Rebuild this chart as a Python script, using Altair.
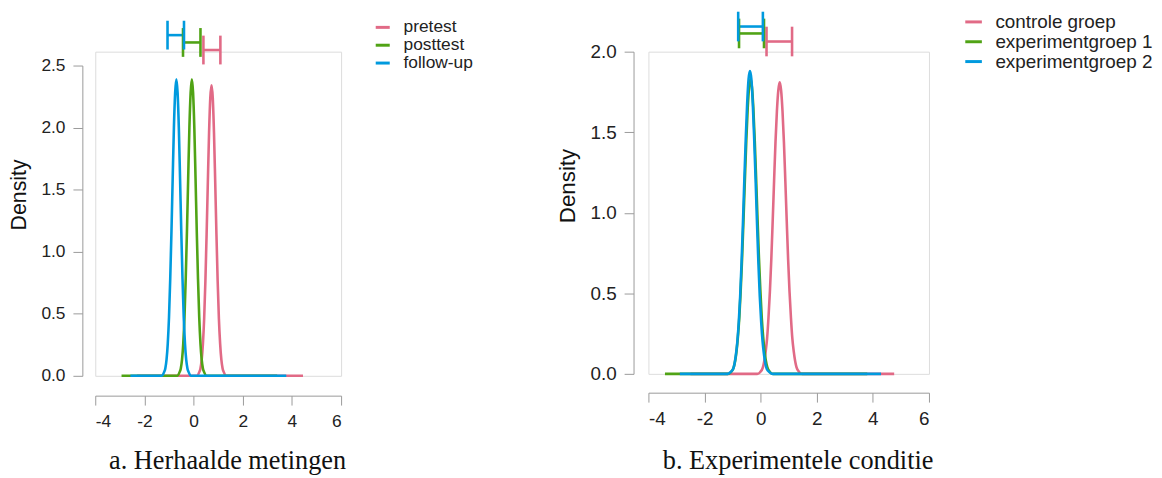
import altair as alt
import pandas as pd

# ---------------- data: panel a (Herhaalde metingen) ----------------
a_groups = ["pretest", "posttest", "follow-up"]
colors = ["#E16A86", "#50A315", "#009ADE"]

a_pre_x = [-2.30, 0.13, 0.23, 0.28, 0.33, 0.38, 0.43, 0.48, 0.53, 0.58, 0.63, 0.68, 0.73,
           0.78, 0.83, 0.88, 0.93, 0.98, 1.03, 1.08, 1.13, 1.18, 1.23, 1.33, 4.45]
a_pre_y = [0, 0, 0.03, 0.06, 0.13, 0.26, 0.46, 0.76, 1.14, 1.56, 1.96, 2.24, 2.34,
           2.24, 1.96, 1.56, 1.14, 0.76, 0.46, 0.26, 0.13, 0.06, 0.03, 0, 0]
a_post_x = [-2.93, -0.67, -0.57, -0.52, -0.47, -0.42, -0.37, -0.32, -0.27, -0.22, -0.17, -0.12, -0.07,
            -0.02, 0.03, 0.08, 0.13, 0.18, 0.23, 0.28, 0.33, 0.38, 0.43, 0.53, 3.40]
a_post_y = [0, 0, 0.03, 0.06, 0.13, 0.26, 0.47, 0.78, 1.16, 1.59, 2.00, 2.28, 2.39,
            2.28, 2.00, 1.59, 1.16, 0.78, 0.47, 0.26, 0.13, 0.06, 0.03, 0, 0]
a_fu_x = [-2.57, -1.30, -1.20, -1.15, -1.10, -1.05, -1.00, -0.95, -0.90, -0.85, -0.80, -0.75, -0.70,
          -0.65, -0.60, -0.55, -0.50, -0.45, -0.40, -0.35, -0.30, -0.25, -0.20, -0.10, 3.77]
a_fu_y = [0, 0, 0.03, 0.06, 0.13, 0.26, 0.47, 0.78, 1.16, 1.59, 2.00, 2.28, 2.39,
          2.28, 2.00, 1.59, 1.16, 0.78, 0.47, 0.26, 0.13, 0.06, 0.03, 0, 0]
a_ci_lo = [0.40, -0.43, -1.06]
a_ci_hi = [1.09, 0.28, -0.39]
a_ci_level = [2.625, 2.686, 2.745]

# ---------------- data: panel b (Experimentele conditie) ----------------
b_groups = ["controle groep", "experimentgroep 1", "experimentgroep 2"]

b_ctl_x = [-2.50, -0.12, -0.02, 0.08, 0.18, 0.23, 0.28, 0.33, 0.38, 0.43, 0.48, 0.53, 0.58, 0.63, 0.68,
           0.73, 0.78, 0.83, 0.88, 0.93, 0.98, 1.03, 1.08, 1.13, 1.18, 1.28, 1.38, 1.48, 4.76]
b_ctl_y = [0, 0, 0.01, 0.04, 0.14, 0.22, 0.35, 0.51, 0.71, 0.95, 1.20, 1.44, 1.63, 1.76, 1.81,
           1.76, 1.63, 1.44, 1.20, 0.95, 0.71, 0.51, 0.35, 0.22, 0.14, 0.04, 0.01, 0, 0]
b_e1_x = [-3.41, -1.16, -1.06, -0.96, -0.86, -0.81, -0.76, -0.71, -0.66, -0.61, -0.56, -0.51, -0.46, -0.41, -0.36,
          -0.31, -0.26, -0.21, -0.16, -0.11, -0.06, -0.01, 0.04, 0.09, 0.14, 0.24, 0.34, 0.44, 3.80]
b_e1_y = [0, 0, 0.01, 0.04, 0.14, 0.23, 0.35, 0.52, 0.72, 0.96, 1.21, 1.45, 1.65, 1.78, 1.83,
          1.78, 1.65, 1.45, 1.21, 0.96, 0.72, 0.52, 0.35, 0.23, 0.14, 0.04, 0.01, 0, 0]
b_e2_x = [-2.88, -1.18, -1.08, -0.98, -0.88, -0.83, -0.78, -0.73, -0.68, -0.63, -0.58, -0.53, -0.48, -0.43, -0.38,
          -0.33, -0.28, -0.23, -0.18, -0.13, -0.08, -0.03, 0.02, 0.07, 0.12, 0.22, 0.32, 0.42, 4.29]
b_e2_y = [0, 0, 0.01, 0.03, 0.12, 0.20, 0.32, 0.48, 0.69, 0.94, 1.21, 1.46, 1.68, 1.83, 1.88,
          1.83, 1.68, 1.46, 1.21, 0.94, 0.69, 0.48, 0.32, 0.20, 0.12, 0.03, 0.01, 0, 0]
b_ci_lo = [0.21, -0.77, -0.80]
b_ci_hi = [1.12, 0.12, 0.08]
b_ci_level = [2.063, 2.113, 2.156]

x_ticks = [-4, -2, 0, 2, 4, 6]
a_y_ticks = [0, 0.5, 1.0, 1.5, 2.0, 2.5]
b_y_ticks = [0, 0.5, 1.0, 1.5, 2.0]

SANS = "Liberation Sans"
SERIF = "Liberation Serif"
AXIS_GRAY = "#9a9a9a"
HYPHEN_LABEL = "datum.value < 0 ? '-' + abs(datum.value) : '' + datum.value"


def panel(groups, curves, ci_lo, ci_hi, ci_level, half, y_ticks, y_domain,
          width, height, y_range, caption, cap_x, cap_y, yoff, xoff, ttl_x, ttl_y,
          lab_fs, ttl_fs, leg_x, leg_y, leg_fs, leg_row_pad, sym_size):
    rows = []
    for g, (xs, ys) in zip(groups, curves):
        for i, (xv, yv) in enumerate(zip(xs, ys)):
            rows.append({"group": g, "x": xv, "y": yv, "i": i})
    dens = pd.DataFrame(rows)
    ci = pd.DataFrame({"group": groups, "lo": ci_lo, "hi": ci_hi, "level": ci_level})
    ends = pd.DataFrame(
        [{"group": g, "x": v, "level": l} for g, lo, hi, l in zip(groups, ci_lo, ci_hi, ci_level) for v in (lo, hi)]
    )

    if y_range is not None:
        yscale = alt.Scale(domain=y_domain, nice=False, zero=False, range=y_range)
    else:
        yscale = alt.Scale(domain=y_domain, nice=False, zero=False)
    xscale = alt.Scale(domain=[-4, 6], nice=False, zero=False)
    color = alt.Color("group:N", scale=alt.Scale(domain=groups, range=colors),
                      legend=alt.Legend(orient="none", legendX=leg_x, legendY=leg_y, title=None,
                                        symbolType="stroke", symbolStrokeWidth=3, symbolSize=sym_size,
                                        labelFontSize=leg_fs, labelFont=SANS, labelColor="#222222",
                                        labelOffset=12, rowPadding=leg_row_pad,
                                        padding=0, labelLimit=400))

    xaxis = alt.Axis(values=x_ticks, labelExpr=HYPHEN_LABEL, offset=xoff, grid=False,
                     domainColor=AXIS_GRAY, tickColor=AXIS_GRAY, tickSize=9.5,
                     labelFont=SANS, labelFontSize=lab_fs, labelColor="#222222", labelPadding=8,
                     title=caption, titleFont=SERIF, titleFontSize=26.5, titleFontWeight="normal",
                     titleColor="#111111", titleX=cap_x, titleY=cap_y, titleBaseline="middle",
                     titleAlign="center")
    yaxis = alt.Axis(values=y_ticks, format=".1f", offset=yoff, grid=False,
                     domainColor=AXIS_GRAY, tickColor=AXIS_GRAY, tickSize=9.5,
                     labelFont=SANS, labelFontSize=lab_fs, labelColor="#222222", labelPadding=8,
                     title="Density", titleFont=SANS, titleFontSize=ttl_fs, titleFontWeight="normal",
                     titleColor="#111111", titleX=ttl_x, titleY=ttl_y, titleBaseline="middle",
                     titleAlign="center", titleAngle=270)

    lines = alt.Chart(dens).mark_line(interpolate="monotone", strokeWidth=2.6).encode(
        x=alt.X("x:Q", scale=xscale, axis=xaxis),
        y=alt.Y("y:Q", scale=yscale, axis=yaxis),
        color=color,
        order="i:Q",
    )
    hbar = alt.Chart(ci).mark_rule(strokeWidth=2.6).encode(
        x="lo:Q", x2="hi:Q", y="level:Q",
        color=alt.Color("group:N", scale=alt.Scale(domain=groups, range=colors)),
    )
    vbar = alt.Chart(ends).transform_calculate(
        y1=f"datum.level - {half}", y2=f"datum.level + {half}"
    ).mark_rule(strokeWidth=2.6).encode(
        x="x:Q", y="y1:Q", y2="y2:Q",
        color=alt.Color("group:N", scale=alt.Scale(domain=groups, range=colors)),
    )
    return alt.layer(lines, hbar, vbar).properties(width=width, height=height)


pa = panel(a_groups, [(a_pre_x, a_pre_y), (a_post_x, a_post_y), (a_fu_x, a_fu_y)],
           a_ci_lo, a_ci_hi, a_ci_level, 0.116, a_y_ticks, [0, 2.5],
           248, 327, [327, 14], "a. Herhaalde metingen", 133, 65, 13, 20, -63, 144,
           17.5, 21.5, 281, -33.5, 17.5, -4, 200)
pb = panel(b_groups, [(b_ctl_x, b_ctl_y), (b_e1_x, b_e1_y), (b_e2_x, b_e2_y)],
           b_ci_lo, b_ci_hi, b_ci_level, 0.092, b_y_ticks, [0, 2.0],
           283, 325, None, "b. Experimentele conditie", 150.5, 68, 15, 19, -67, 135,
           19, 22.5, 318, -40, 19, -6, 280)

chart = alt.hconcat(pa, pb, spacing=81).resolve_scale(
    color="independent", x="independent", y="independent"
).resolve_legend(color="independent").properties(
    padding={"left": 0, "top": -1, "right": 0, "bottom": 0}
).configure_view(stroke=None).configure(background="white")

chart.save("out.html", embed_options={"renderer": "svg", "actions": False})
